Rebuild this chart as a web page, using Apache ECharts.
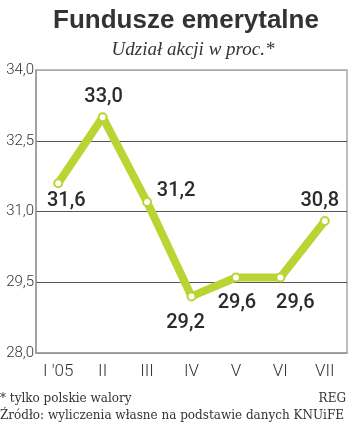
<!DOCTYPE html>
<html>
<head>
<meta charset="utf-8">
<script src="https://cdn.jsdelivr.net/npm/echarts@6/dist/echarts.min.js"></script>
<style>
html,body{margin:0;padding:0;background:#fff;}
#c{width:350px;height:425px;}
</style>
</head>
<body>
<div id="c"></div>
<script>
const categories = ["I '05", "II", "III", "IV", "V", "VI", "VII"];
const values = [31.6, 33.0, 31.2, 29.2, 29.6, 29.6, 30.8];
const yTicks = [28, 29.5, 31, 32.5, 34];
const labelOffsets = [[8, 18], [1, -20], [29, -11], [-6, 27], [1, 25], [15, 25], [-5, -20]];

const green = '#bcd433';
const chart = echarts.init(document.getElementById('c'), null, {renderer: 'canvas'});
function foot(text, pos) {
  return Object.assign({type: 'text', style: {text: text, fontFamily: 'DejaVu Serif', fontSize: 12, fill: '#333'}}, pos);
}
chart.setOption({
  animation: false,
  backgroundColor: '#fff',
  title: [
    {text: 'Fundusze emerytalne', left: 181, top: 3, textAlign: 'center',
      textStyle: {fontFamily: 'Liberation Sans', fontWeight: 'bold', fontSize: 26, color: '#333'}},
    {text: 'Udział akcji w proc.*', left: 188, top: 35, textAlign: 'center',
      textStyle: {fontFamily: 'Liberation Serif', fontStyle: 'italic', fontWeight: 'normal', fontSize: 19, color: '#333'}}
  ],
  graphic: [
    foot('* tylko polskie walory', {left: 0, top: 393}),
    foot('REG', {right: 4, top: 393}),
    foot('Źródło: wyliczenia własne na podstawie danych KNUiFE', {left: 0, top: 410})
  ],
  grid: {left: 36, right: 3, top: 70, bottom: 72, show: true, borderColor: '#aaa', borderWidth: 1.5, backgroundColor: 'transparent'},
  xAxis: {
    type: 'category', data: categories, boundaryGap: true,
    axisLine: {lineStyle: {color: '#999', width: 1.5}},
    axisTick: {show: false},
    axisLabel: {fontFamily: 'Roboto', fontSize: 17, fontWeight: 300, color: '#333', margin: 10}
  },
  yAxis: {
    type: 'value', min: 28, max: 34,
    axisLine: {show: true, lineStyle: {color: '#999', width: 1.5}},
    axisTick: {show: false, customValues: yTicks},
    axisLabel: {customValues: yTicks, fontFamily: 'Roboto', fontSize: 15, fontWeight: 300, color: '#333', margin: 2,
      formatter: v => v.toFixed(1).replace('.', ',')},
    splitLine: {show: true, lineStyle: {color: ['#999', '#555', '#555', '#555', '#aaa'], width: 1}}
  },
  series: [{
    type: 'line',
    data: values.map((v, i) => ({value: v, label: {offset: labelOffsets[i]}})),
    lineStyle: {color: green, width: 8},
    symbol: 'circle', symbolSize: 8,
    itemStyle: {color: '#fff', borderColor: green, borderWidth: 2},
    label: {show: true, position: 'inside', fontFamily: 'Roboto', fontSize: 20, fontWeight: 500, color: '#2b2b2b',
      formatter: p => p.value.toFixed(1).replace('.', ',')},
    z: 3
  }]
});
</script>
</body>
</html>
